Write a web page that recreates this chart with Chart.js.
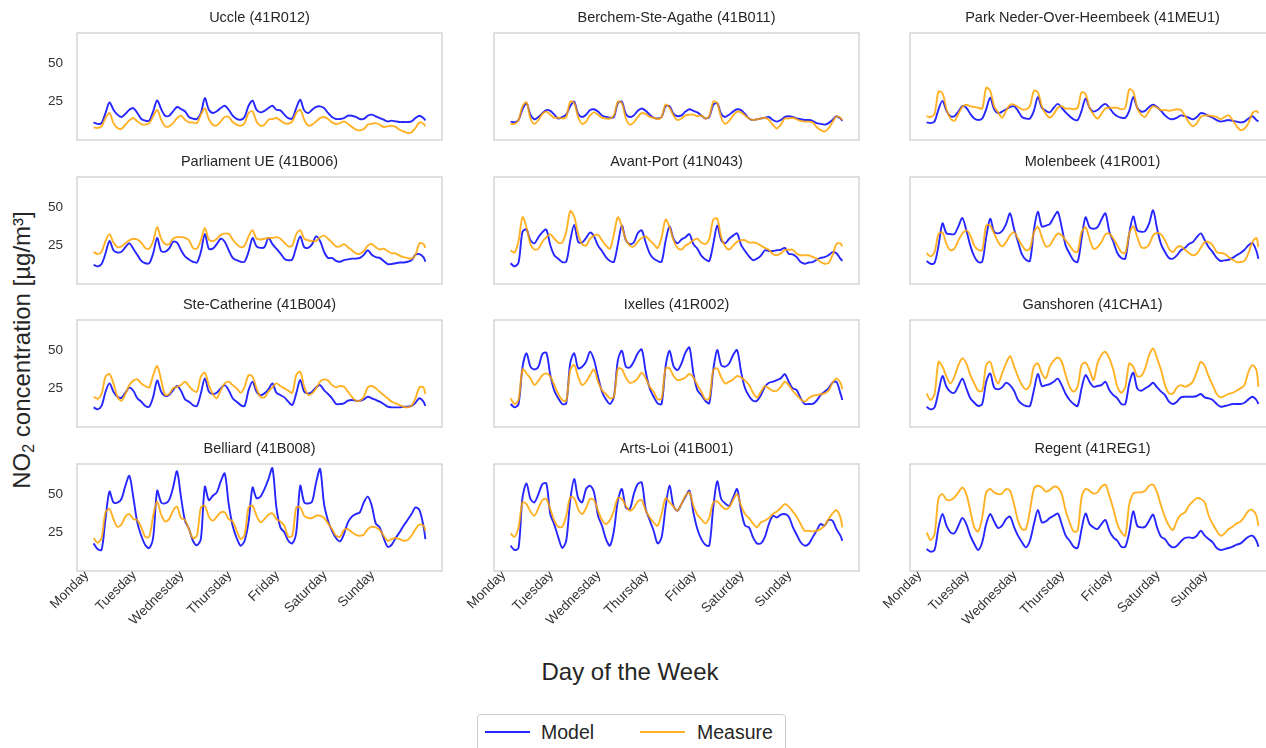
<!DOCTYPE html>
<html>
<head>
<meta charset="utf-8">
<script src="https://cdn.jsdelivr.net/npm/chart.js@4.4.1/dist/chart.umd.min.js"></script>
<style>
  html, body { margin: 0; padding: 0; background: #fff; }
  body { width: 1266px; height: 748px; overflow: hidden; position: relative;
         font-family: "Liberation Sans", Arial, sans-serif; color: #262626; }
  .panel { position: absolute; }
  .panel canvas { display: block; }
  #ylab { position: absolute; left: 23px; top: 350px; transform: translate(-50%, -50%) rotate(-90deg);
          font-size: 24px; white-space: nowrap; }
  #xlab { position: absolute; left: 630px; top: 672px; transform: translate(-50%, -50%);
          font-size: 24px; white-space: nowrap; }
  #legend { position: absolute; left: 477px; top: 714px; width: 309px; height: 42px;
            border: 1px solid #cccccc; border-radius: 4px; box-sizing: border-box; background: #fff; }
  #legend .sw { position: absolute; top: 16px; width: 45px; height: 2px; }
  #legend .lt { position: absolute; top: 5px; line-height: 24px; font-size: 19.5px; color: #262626; }
</style>
</head>
<body>
<div id="ylab">NO<sub style="font-size:16px;vertical-align:-4px;">2</sub> concentration [µg/m³]</div>
<div id="xlab">Day of the Week</div>
<div id="legend">
  <span class="sw" style="left:7px;background:rgba(0,0,255,0.85)"></span><span class="lt" style="left:63px">Model</span>
  <span class="sw" style="left:162px;background:rgba(255,165,0,0.85)"></span><span class="lt" style="left:219px">Measure</span>
</div>

<script>
// Hours since Monday 00:00, one reading every two hours plus the final hour of the week
const hours = [0,2,4,6,8,10,12,14,16,18,20,22, 24,26,28,30,32,34,36,38,40,42,44,46,
  48,50,52,54,56,58,60,62,64,66,68,70, 72,74,76,78,80,82,84,86,88,90,92,94,
  96,98,100,102,104,106,108,110,112,114,116,118, 120,122,124,126,128,130,132,134,136,138,140,142,
  144,146,148,150,152,154,156,158,160,162,164,166, 167];

const dayNames = ["Monday", "Tuesday", "Wednesday", "Thursday", "Friday", "Saturday", "Sunday"];
const dayTicks = [0, 24, 48, 72, 96, 120, 144];
const yTicks = [25, 50];

const stations = [
  "Uccle (41R012)", "Berchem-Ste-Agathe (41B011)", "Park Neder-Over-Heembeek (41MEU1)",
  "Parliament UE (41B006)", "Avant-Port (41N043)", "Molenbeek (41R001)",
  "Ste-Catherine (41B004)", "Ixelles (41R002)", "Ganshoren (41CHA1)",
  "Belliard (41B008)", "Arts-Loi (41B001)", "Regent (41REG1)"
];

// NO2 concentrations in µg/m³ (model output and station measurements)
const uccleModel = [11.5,10.5,11,17.6,24.5,19.7,16.5,15,17,19.7,20.8,17.6,
  13.7,12.6,12.6,18.7,25.8,20.2,15.8,15.8,18.7,21.5,20.2,18.7,
  15,13.9,13.7,17.6,27.3,19.7,17.6,18.7,20.8,22.3,19.7,15.8,
  13.7,13.2,15,22.3,25.6,19.7,18,19,20.8,22.3,19.7,19.3,
  16.5,14.3,14.1,20.8,26.2,19.3,17.6,19.7,21.5,21.9,20.8,17.6,
  15,13.7,13.7,14.3,15.8,15.8,15,13.7,13.7,15.8,16.5,15.4,
  14.3,13.2,12.1,12.6,12.1,11.7,11.7,11.7,12.1,14.3,15.8,14.3, 12.8];
const uccleMeasure = [8.2,7.8,8.9,14.3,17.6,11,7.8,7.2,10,12.8,14.3,12.1,
  10.4,10,11,15.4,19.7,13.2,8.9,8.9,11,14.3,15.8,13.2,
  11.5,11.5,11,16.5,20.6,13.7,10,9.5,12.1,15,15,11.7,
  10,9.3,11,17.6,18.7,12.1,9.3,10,13.2,13.7,14.3,12.8,
  11,10.6,12.1,17.6,19.7,13.2,9.3,10,12.1,14.3,15,13.7,
  11.5,10.4,11,12.1,10.6,8.5,6.7,6.3,7.2,10,10.6,11,
  10,8.5,8.9,9.3,8.5,6.7,5.6,4.6,5,7.8,11.5,10.6, 9];

const berchemModel = [12,11.5,13,20,24,16.5,13.5,15,17.5,19.5,19,16.5,
  14,15,16.5,22,25,17,15,16.5,19.5,20,18.5,16,
  15,14.5,15,24,25,17,15,16,19,20.5,19,16.5,
  14.5,14,15,22,22,17,15.5,16,18.5,20,19,18,
  16,14,15,23,24,17,15,16.5,18.5,20,19.5,17,
  14,13,13.5,14,14.5,15,13,12,13,15,15.5,15,
  14,13.5,13,13,12.5,11,10.5,10,11,13,15.5,14, 12.5];
const berchemMeasure = [10.5,10.5,13,22,24.5,14,10.5,13,17,18.5,16.5,14.5,
  14.5,14,15,25,24,15,10.5,12,16,18,16.5,14.5,
  14,14,16,25,24,14,10,11.5,15,17.5,17,15,
  14.5,13.5,15,23,21,16,13,14,16,16.5,16.5,15.5,
  16,14,15.5,25,24,14.5,10.5,12.5,16,18.5,18,16,
  14,13,13.5,14,14.5,13,10,7.5,10,14,14,14.5,
  13.5,12.5,12,12,11.5,8.5,6.5,5.5,7.5,11.5,15.5,14.5, 13];

const parkModel = [11.5,11,12,20,25.5,19,15.5,15.5,18.5,22,21,17,
  14,13,14,20,27.5,20,17.5,18.5,20,21.5,22,19,
  15,14,14,19,28,21,19,18,21,23.5,21,18,
  15.5,13.5,13,19,27,21,18.5,19.5,22,23.5,21,17.5,
  15.5,14.5,14.5,19,28,21,18.5,19,21.5,23,21.5,19,
  16,14,13.5,14.5,16,15.5,14.5,13.5,15,17.5,17,15.5,
  14.5,13,12,12.5,13,12.5,12,11.5,12,14,15.5,13, 12];
const parkMeasure = [15.5,15,17,31.5,30.5,20,14,12.5,17,21.5,23,22,
  21.5,21,20.5,34,32,22,18,14.5,19,23,23,21.5,
  20,20,22,32,31,22,17,14.5,17,21,22,20.5,
  20.5,20,21,31,30,21,16.5,14,17,20.5,21,21,
  21,20,21,33,31.5,21,16.5,15,19,22,21,19.5,
  19.5,19,19.5,20,19.5,16,11.5,9,11,15,16,16,
  15.5,15,13.5,15,16,13,9,6.5,7.5,11,17.5,19, 17.5];

const parliamentModel = [12.5,11.5,13,20,28,22,20.5,21,24,26.5,23,19,
  15,13.5,13.5,20,30,21.5,21,23,27.5,27,22,18,
  16,14.5,14,21,32.5,23,23,26,29.5,27.5,22,17,
  15.5,14.5,14.5,21,30,24.5,23.5,24,30,26,23,20,
  16.5,15.5,16,24,31,24,23.5,26,31,28,21,17,
  17,15,14.5,15.5,16,16.5,16.5,17,19,22,19,17.5,
  17,15,13,13,13.5,14,14,14.5,15.5,19,19.5,17.5, 14.5];
const parliamentMeasure = [21,19.5,21,28,32.5,27,24,24.5,26.5,28.5,29.5,29,
  27,23.5,23,28,37,29.5,26,26,29.5,30.5,30.5,30,
  28.5,23.5,23,28.5,36.5,29,28,29.5,32,32.8,32.8,29,
  26,24,25,31,35,29.5,29,29.5,30,30,30.5,29.5,
  27,24.5,25,32.5,35,29.5,28.5,28,28,30.5,31.5,29.5,
  27,24.5,24.5,26,24,22,20,19.7,21.5,25,26,24,
  22.5,23,21.5,20,20,18.5,17.5,17,16.5,19,26.5,26, 23.5];

const avantModel = [13.5,11.5,14,34,35.5,28.5,26.5,30.5,33.8,35.4,25.2,18.7,
  16.5,14.3,14.5,28,38.5,27.5,27,30,33.5,31,25,21.5,
  17.5,15,14.5,26,38,28.5,26,27,33,35,27,20,
  16.5,15,14.5,28,37.5,29.5,26.5,29,30.5,32.5,26,23,
  18.5,16,15,26,38,28.5,26.5,29.5,31.5,33,25.5,21.5,
  18,15.5,16.5,18.5,22,21.5,21.5,22,22.3,23.5,19.7,19.3,
  17.5,14.3,13.2,14,14.3,15.8,17,17.5,18.7,20.8,20,16.5, 15];
const avantMeasure = [22,20.5,28,43.5,37,26,22.5,23,27.5,30.5,32.5,29.5,
  27,27,34,47.5,44,32.5,26,25,29.5,31.5,32,28.5,
  25,23,32.5,43.5,37.5,29,25,24.5,27.5,30,31,28.5,
  26,23.5,30.5,42,37,28.5,23.5,22.5,25,26.5,28.5,29.5,
  27,26,29.5,42,42.5,30.5,24.5,22.5,25,27.5,28.5,28.5,
  27,27,26.5,25,23.5,22.3,19.5,18.7,20,22,22.3,22.3,
  19.7,18.7,18.7,18.7,17.6,16.5,14.3,13.2,13.7,18.7,26,26.5, 24.5];

const molenbeekModel = [15,13.2,13.7,25,39.5,33,32.5,32.5,37.5,43,35,25,
  18,14.3,14.5,30.5,42.5,34,33,34.5,39,46,36,27.5,
  19.3,15.8,15,35,47,37.5,38,39,43.5,47,37,25,
  19.7,15.4,14.3,29.5,43.5,37,36,37,42,46,34,27.5,
  20.2,17,16.5,32.8,44,35,34,34.5,39.5,48,36,26,
  20.8,17,16.5,18.7,22,23.5,26,27.3,30.5,33,28.5,24,
  20.8,17,15,15.4,15.8,17,18.7,20.2,22.3,25.2,26.7,21.5, 16.5];
const molenbeekMeasure = [20.2,18,20.8,32.5,33.5,26,22,23,28.4,32.8,34.9,31.7,
  25,22.3,22,38,38,33,27.3,24.5,27.3,31.7,33.8,29.5,
  25.2,22,23,33.8,37.1,30.6,24.5,25.2,29.5,32.8,31.7,28.4,
  25.2,21.5,21,33.8,37,29.5,23,24,27.3,32.3,32.8,29.5,
  25.2,20.8,20.2,32.8,37.5,30.6,24,23.6,25.8,31.7,33.2,32.3,
  28.4,23,20.8,24,24.5,22.3,20.2,18.7,19.7,23.6,27.3,27.3,
  25.2,20.8,20.2,19.7,17.6,15.8,14.3,14.3,15,20.2,27.3,30, 24];

const steCatherineModel = [12.8,11.5,13.7,23,28.4,23,19.7,19,22.3,25.6,23.6,18.7,
  16.5,13.7,13.2,19.7,30.2,23,20.2,20.8,24,26.7,23.6,18,
  16.5,14.3,13.7,22,31.7,23,21.5,22.3,25.2,27.3,24,18.7,
  16.5,14.3,13.7,24,29.5,23,20.8,21.9,24.5,28.4,22.3,20.8,
  19.3,16.5,14.3,21.9,30.6,23,21.9,23,25.8,27.3,24,21.5,
  18.7,15,15,15.4,17.1,17.6,17.1,17.1,18,19.7,18.7,17.6,
  16.5,15,13.2,12.8,12.8,12.8,13.2,13.2,13.7,15.8,18.7,16.5, 13.7];
const steCatherineMeasure = [19.7,18.4,21.5,32.8,34.5,28.4,19.7,17.1,21.5,27.3,30.2,31,
  28.4,26.7,25.8,33.8,39.7,30.6,20.8,21.5,25.2,26.2,27.3,29.5,
  26.7,24,23,32.8,35.4,27.3,21.5,18.7,24,28.4,29.5,27.3,
  25.2,22.3,26.2,33.8,32.8,25.2,19.7,19.3,23,25.8,28.4,26.7,
  25.2,23.6,22.3,33.8,36,26.2,20.8,21.9,25.2,29.5,31,30.2,
  27.3,25.8,26.7,26.2,23,19.7,17.1,17.1,19.7,25.8,26.7,25.2,
  23,20.8,18.7,16.5,15.4,14.3,13.2,12.8,13.7,18.7,25.8,25.8, 21.5];

const ixellesModel = [15,12.8,15,39,48,39.3,37.5,39.3,47.5,48.4,33.8,23.6,
  18.7,15,15.4,41.4,48,38.2,39.3,42.5,49,43.6,32.8,23,
  18,15,19.7,43.6,49.7,39.3,38.8,42.5,48,50.5,36,25.2,
  19.7,15.4,15,39.3,49.7,39.7,37.1,41.4,48.4,51.8,34.9,24,
  20.8,17.1,15.4,37.1,50.1,40.3,39.3,41.4,46.9,50.1,36,25.2,
  20.2,17.1,17.1,20.8,26.2,28.8,29.5,30.6,31.7,34.5,29.5,25.2,
  24,18.7,15,15,15,17.1,20.8,23,25.2,28.8,29.5,21.9, 17.6];
const ixellesMeasure = [18.7,15,17.6,37.5,35,31.7,27.3,30.2,33.8,34.9,32.8,27.3,
  21.5,17.6,17.1,37.1,40.3,32.8,27.3,29.5,33.8,37.5,29.5,24,
  21.5,18.7,19.7,38.2,37.5,32.3,28.8,29.5,31.7,35.4,31.7,26.2,
  23,18,18.7,38.2,38.2,33.2,30.6,31,32.3,34.5,32.3,27.3,
  23,18,18.7,37.1,38.2,32.3,28.4,29.5,31,33.2,32.3,30.2,
  27.3,22.3,19.3,23,26.7,25.2,23.6,23.6,26.2,29.5,27.3,23.6,
  20.8,18,16.5,18.7,20.2,20.8,21.3,21.9,23.6,28.8,31.7,28.8, 24.5];

const ganshorenModel = [13.2,11.5,12.8,23,33.2,26.2,23,22.3,26.7,31.5,25.2,18.7,
  15.8,13.7,15,29.5,34.9,25.8,24.5,25.8,28.8,27.3,23.6,17.6,
  15,13.7,13.7,24,34.5,26.7,27.3,28,29.5,31.5,27.3,21.5,
  17.6,15,13.7,25.2,33.8,29.5,26.2,26.7,27.3,29.5,24,20.8,
  18.7,15,15,28.4,35.4,25.2,23.6,25.2,26.7,28.8,25.8,23,
  20.8,16.5,15,16.5,19.3,19.7,19.7,19.7,20.2,21.5,19.3,18.7,
  17.6,15,13.2,13.7,14.3,15,15,15,15.8,18,19.7,17.6, 15];
const ganshorenMeasure = [21.9,17.6,21.5,42.5,39.3,32.8,28.4,32.8,40.3,44.7,41.4,33.8,
  28.4,23.6,23.6,40.3,42.5,33.8,28.4,34.9,41.4,46.2,39.7,32.8,
  27.3,24.5,27.3,39.3,41.4,34.9,31.7,39.3,43.2,45.3,42.5,33.8,
  26.2,23,26.2,40.3,41.9,37.1,30.6,41.4,46.9,49,44.7,37.1,
  26.2,22.3,26.2,41.4,39.3,33.2,33.2,38.2,46.9,51.2,44.7,37.1,
  27.3,21.9,21.9,25.8,27.3,26.2,27.3,29.5,36,42.5,39.7,32.8,
  27.3,21.5,19.3,20.2,21.5,22.3,23.6,25.2,27.3,36,40.3,37.1, 26.2];

const belliardModel = [18,14.3,13.7,34,51.8,44.7,44.5,46.9,55.5,62,47.9,31.7,
  23,17,15,22,52.3,44.7,44,46.2,54.4,64.9,47.9,32.8,
  27.5,19.7,16.8,21,54.9,46.2,49,51.2,58.4,63.6,43.6,29.5,
  21.5,16.5,19.7,32,54.4,47.5,48.4,53.4,59.9,67,41.4,28.4,
  25.2,19.7,18,25.2,55.5,44.7,44,45.3,57.7,66.4,43.6,32.8,
  26.2,21.5,19.3,24,31.7,35.4,37.1,38.2,44.7,48.4,42.5,31,
  28.4,21.5,15.8,17.1,21.5,25.2,29.5,33.2,37.1,41.4,39.7,29.5, 20.8];
const belliardMeasure = [21.5,18.4,21.5,38.2,40.3,33.8,28.8,30.2,35.4,37.1,33.8,33.2,
  28.4,22.3,22.3,36,45.3,36.7,32.3,33.8,39.3,41.9,34.5,33.2,
  27.3,21.5,23,41.4,42.5,35.4,32.8,35.4,38.2,38.2,33.8,32.3,
  26.2,20.8,23.6,41.4,42.5,36,31.7,33.8,36.7,37.5,33.8,32.3,
  29.5,22.3,23,41.4,41.4,36,34.5,34.5,36,36,34.5,31,
  27.3,23,22.3,26.7,27.3,25.2,23.6,23,23.6,27.3,28.8,28.4,
  26.7,23,19.7,20.8,21.5,20.8,19.7,20.2,23,27.3,30.2,29.5, 26.2];

const artsLoiModel = [16.5,13.7,15,47.9,57,46.9,44.7,50.1,56.6,57,37,30.2,
  21.9,15,19.7,45.8,59.9,47.5,44.7,53.4,55.5,51.2,36,29.5,
  20.8,16.5,26.2,45.8,53.4,41.4,40.3,50.1,56.6,57.7,40.3,33.2,
  26.2,18,21.9,41.4,55.5,42.3,39.3,43.6,48.4,52.3,38.2,27.3,
  20.8,17.1,16.5,41.4,58.4,46.9,44,42.5,47.9,53.4,39.3,29.5,
  28.4,21.9,18,18,22.3,30.6,36,34.9,36.7,37.1,35.4,28.8,
  23.6,18.7,16.5,17.6,21.9,26.2,30.6,29.5,33.2,32.8,27.3,23, 19.7];
const artsLoiMeasure = [24.5,22.3,28.4,44.7,43.6,38.8,36,41,46.2,46.9,40.3,32.8,
  28.8,28.8,36,47.9,47.5,40.3,37.1,41,46.9,46.2,39.3,33.2,
  30.6,33.2,39.3,47.5,46.9,42.5,39.3,41,45.3,46.2,39.3,34.9,
  31.7,29.5,37.1,47.5,44.7,41.9,39.3,43.6,49,51.2,42.5,36.7,
  33.8,31,34.9,44.7,45.3,42.5,40.3,41.4,46.2,50.1,42.5,37.1,
  34.5,31,28.4,31.7,32.8,34.5,37.1,38.8,41,43.6,41.9,38.8,
  35.4,30.6,26.2,26.2,25.8,26.2,27.3,29.5,33.8,37.5,39.7,34.9, 28.4];

const regentModel = [14.3,12.6,13.7,28.4,37.1,29.5,25.2,24.5,29.5,34.5,30.6,23,
  17.6,13.7,18.7,30.6,37.1,32.3,28,29.5,33.8,35.4,28.8,23,
  18.7,15.4,19.7,30.6,39.7,31.7,32.3,34.5,36,37.5,30.6,23,
  19.7,15.8,15,27.3,37.5,30.6,28.4,27.3,30.6,33.2,26.2,21.9,
  19.7,15.8,15.8,25.2,38.8,29.5,28.4,28.8,32.8,36.7,28.4,22.3,
  20.8,17.1,15.4,16.5,19.3,21.5,21.9,21.5,23,26.2,23,20.8,
  18.7,15,13.7,14.3,15,15.8,17.1,18,20.2,22.3,23,19.7, 15.8];
const regentMeasure = [25.2,20.2,24,47.5,50.1,46.4,46.2,47.9,51.2,54.4,50.1,39.3,
  28.4,25.8,35,51.2,53.4,51.2,50.1,50.5,53.4,52.3,43.6,32.8,
  27.3,27.3,39.3,53.4,55.5,54.4,51.8,52.7,54.9,54.4,50.1,39.3,
  31.7,25.8,26.2,47.9,53.4,52.3,50.5,51.2,54.9,56.2,49,40.3,
  30.6,25.2,23,43.6,50.5,51.2,51.2,52.3,55.5,56.2,51.2,42.5,
  34.9,29.5,26.7,32.8,36.7,38.2,42.5,45.3,47.5,46.9,44.7,36,
  30.6,26.2,23,24.5,27.3,28.8,31,32.3,35.4,39.3,39.7,36, 29.5];

const modelSeries = [uccleModel, berchemModel, parkModel, parliamentModel, avantModel, molenbeekModel,
  steCatherineModel, ixellesModel, ganshorenModel, belliardModel, artsLoiModel, regentModel];
const measureSeries = [uccleMeasure, berchemMeasure, parkMeasure, parliamentMeasure, avantMeasure, molenbeekMeasure,
  steCatherineMeasure, ixellesMeasure, ganshorenMeasure, belliardMeasure, artsLoiMeasure, regentMeasure];

// ---- layout of the 4 x 3 grid of subplots ----
const FONT = '"Liberation Sans", Arial, sans-serif';
const colLeft = [77, 494, 910];
const rowTop = [33, 177, 320, 464];
const plotW = 365, plotH = 107;
const side = 50, titleH = 30;

// light grey box around each subplot
const frame = {
  id: 'frame',
  afterDraw(chart) {
    const { ctx, chartArea: a } = chart;
    ctx.save();
    ctx.strokeStyle = '#cfcfcf';
    ctx.lineWidth = 1.3;
    ctx.strokeRect(a.left, a.top, a.right - a.left, a.bottom - a.top);
    ctx.restore();
  }
};

const toPoints = (vals) => hours.map((h, k) => ({ x: h, y: vals[k] }));

stations.forEach((name, i) => {
  const row = Math.floor(i / 3), col = i % 3;
  const bottomRow = row === 3;
  const axisH = bottomRow ? 80 : 26;
  const w = plotW + 2 * side, h = titleH + plotH + axisH;

  const box = document.createElement('div');
  box.className = 'panel';
  box.style.left = (colLeft[col] - side) + 'px';
  box.style.top = (rowTop[row] - titleH) + 'px';
  const cv = document.createElement('canvas');
  cv.width = w; cv.height = h;
  cv.style.width = w + 'px'; cv.style.height = h + 'px';
  box.appendChild(cv);
  document.body.appendChild(box);

  new Chart(cv.getContext('2d'), {
    type: 'line',
    data: {
      datasets: [
        { label: 'Model', data: toPoints(modelSeries[i]), borderColor: 'rgba(0,0,255,0.85)',
          borderWidth: 1.9, pointRadius: 0, tension: 0.3, fill: false, order: 2 },
        { label: 'Measure', data: toPoints(measureSeries[i]), borderColor: 'rgba(255,165,0,0.85)',
          borderWidth: 1.9, pointRadius: 0, tension: 0.3, fill: false, order: 1 }
      ]
    },
    options: {
      responsive: false,
      animation: false,
      events: [],
      devicePixelRatio: 1,
      layout: { padding: 0 },
      plugins: {
        legend: { display: false },
        tooltip: { enabled: false },
        title: {
          display: true, text: name, color: '#262626',
          font: { family: FONT, size: 14.5, weight: 'normal', lineHeight: 1.2 },
          padding: { top: 6, bottom: 6.6 }
        }
      },
      scales: {
        x: {
          type: 'linear', min: -8.35, max: 175.35,
          grid: { display: false, drawTicks: false },
          border: { display: false },
          afterBuildTicks: (s) => { s.ticks = dayTicks.map(v => ({ value: v })); },
          afterFit: (s) => { s.height = axisH; },
          ticks: {
            display: bottomRow, autoSkip: false, minRotation: 45, maxRotation: 45,
            padding: -4, labelOffset: -7,
            color: '#333', font: { family: FONT, size: 13.5 },
            callback: (v) => dayNames[dayTicks.indexOf(v)]
          }
        },
        y: {
          position: 'left', min: 0, max: 69.7,
          grid: { display: false, drawTicks: false },
          border: { display: false },
          afterBuildTicks: (s) => { s.ticks = yTicks.map(v => ({ value: v })); },
          afterFit: (s) => { s.width = side; },
          ticks: { display: col === 0, autoSkip: false, padding: 14, color: '#333',
                   font: { family: FONT, size: 13.5 } }
        },
        yRight: {
          position: 'right', min: 0, max: 69.7,
          grid: { display: false, drawTicks: false },
          border: { display: false },
          afterFit: (s) => { s.width = side; },
          ticks: { display: false }
        }
      }
    },
    plugins: [frame]
  });
});
</script>
</body>
</html>
